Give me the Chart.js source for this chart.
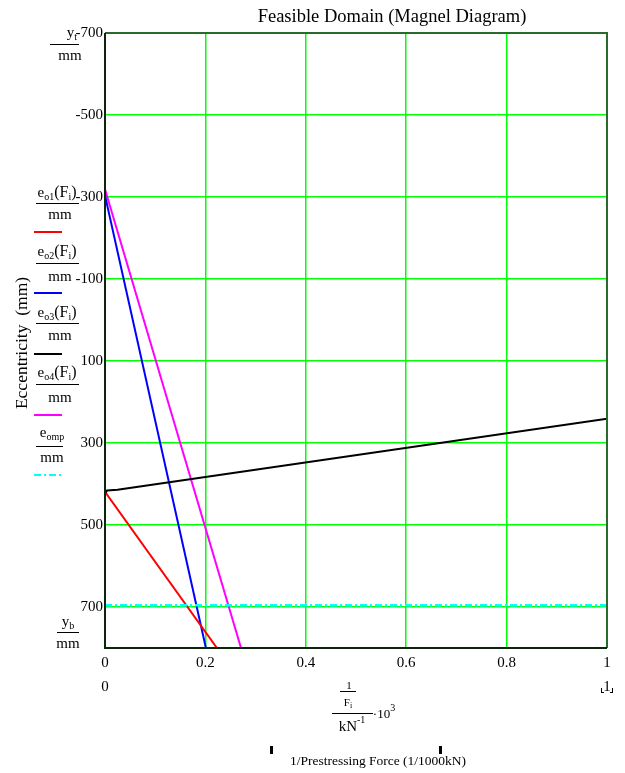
<!DOCTYPE html>
<html>
<head>
<meta charset="utf-8">
<script src="https://cdn.jsdelivr.net/npm/chart.js@4"></script>
<style>
  html, body { margin: 0; padding: 0; background: #fff; }
  canvas { display: block; }
</style>
</head>
<body>
<canvas id="magnel" width="625" height="773"></canvas>
<script>
// Magnel diagram - eccentricity vs 1/Fi
const xTicks = [0, 0.2, 0.4, 0.6, 0.8, 1];
const yTicks = [-700, -500, -300, -100, 100, 300, 500, 700];

const eo1X = [0, 0.223];
const eo1Y = [419, 800];
const eo2X = [0, 0.201];
const eo2Y = [-304, 800];
const eo3X = [0, 0.004, 0.025, 1];
const eo3Y = [423, 416, 414, 241];
const eo4X = [0, 0.271];
const eo4Y = [-319, 800];
const eompX = [0, 1];
const eompY = [696, 696];

const FONT = '"Liberation Serif", "Times New Roman", serif';
const CYAN_DASH = [7, 3, 2, 3];

function pts(xs, ys) {
  return xs.map((x, i) => ({ x: x, y: ys[i] }));
}

function line(data, color, dash, width) {
  return {
    data: data,
    showLine: true,
    borderColor: color,
    backgroundColor: color,
    borderWidth: width || 2,
    borderDash: dash || [],
    pointRadius: 0,
    tension: 0
  };
}

// draw text made of pieces (normal + subscripts/superscripts)
function rich(ctx, parts, cx, base) {
  let w = 0;
  parts.forEach(p => {
    ctx.font = (p.s || 15) + 'px ' + FONT;
    p.w = ctx.measureText(p.t).width;
    w += p.w;
  });
  let x = cx - w / 2;
  ctx.textAlign = 'left';
  ctx.textBaseline = 'alphabetic';
  parts.forEach(p => {
    ctx.font = (p.s || 15) + 'px ' + FONT;
    ctx.fillText(p.t, x, base + (p.dy || 0));
    x += p.w;
  });
}

function bar(ctx, x1, x2, y) {
  ctx.beginPath();
  ctx.moveTo(x1, y + 0.5);
  ctx.lineTo(x2, y + 0.5);
  ctx.stroke();
}

function sample(ctx, y, color, dash) {
  ctx.save();
  ctx.strokeStyle = color;
  ctx.lineWidth = 2;
  ctx.setLineDash(dash || []);
  ctx.beginPath();
  ctx.moveTo(34, y);
  ctx.lineTo(62, y);
  ctx.stroke();
  ctx.restore();
}

const decorPlugin = {
  id: 'decor',
  afterDraw(chart) {
    const ctx = chart.ctx;
    const a = chart.chartArea;
    ctx.save();

    // frame
    ctx.lineWidth = 2;
    ctx.strokeStyle = '#2a6a2a';
    ctx.beginPath();
    ctx.moveTo(a.left, a.top);
    ctx.lineTo(a.right, a.top);
    ctx.lineTo(a.right, a.bottom);
    ctx.stroke();
    ctx.strokeStyle = '#0b260b';
    ctx.beginPath();
    ctx.moveTo(a.left, a.top);
    ctx.lineTo(a.left, a.bottom);
    ctx.lineTo(a.right, a.bottom);
    ctx.stroke();

    ctx.fillStyle = '#000';
    ctx.strokeStyle = '#000';
    ctx.lineWidth = 1;

    // title
    ctx.font = '18.5px ' + FONT;
    ctx.textAlign = 'center';
    ctx.textBaseline = 'middle';
    ctx.fillText('Feasible Domain (Magnel Diagram)', 392, 17);

    // vertical axis title
    ctx.save();
    ctx.translate(22, 343);
    ctx.rotate(-Math.PI / 2);
    ctx.font = '17.5px ' + FONT;
    ctx.fillText('Eccentricity  (mm)', 0, 0);
    ctx.restore();

    // left legend (Mathcad style)
    rich(ctx, [{ t: 'y' }, { t: 't', s: 10, dy: 3 }], 72, 37);
    bar(ctx, 50, 79, 44);
    rich(ctx, [{ t: 'mm' }], 70, 60);

    rich(ctx, [{ t: 'e' }, { t: 'o1', s: 10, dy: 3 }, { t: '(F', s: 16 }, { t: 'i', s: 10, dy: 3 }, { t: ')', s: 16 }], 57, 197);
    bar(ctx, 36, 79, 203);
    rich(ctx, [{ t: 'mm' }], 60, 219);
    sample(ctx, 232, '#ff0000');

    rich(ctx, [{ t: 'e' }, { t: 'o2', s: 10, dy: 3 }, { t: '(F', s: 16 }, { t: 'i', s: 10, dy: 3 }, { t: ')', s: 16 }], 57, 256);
    bar(ctx, 36, 79, 263);
    rich(ctx, [{ t: 'mm' }], 60, 281);
    sample(ctx, 293, '#0000ff');

    rich(ctx, [{ t: 'e' }, { t: 'o3', s: 10, dy: 3 }, { t: '(F', s: 16 }, { t: 'i', s: 10, dy: 3 }, { t: ')', s: 16 }], 57, 317);
    bar(ctx, 36, 79, 323);
    rich(ctx, [{ t: 'mm' }], 60, 340);
    sample(ctx, 354, '#000000');

    rich(ctx, [{ t: 'e' }, { t: 'o4', s: 10, dy: 3 }, { t: '(F', s: 16 }, { t: 'i', s: 10, dy: 3 }, { t: ')', s: 16 }], 57, 377);
    bar(ctx, 36, 79, 384);
    rich(ctx, [{ t: 'mm' }], 60, 402);
    sample(ctx, 415, '#ff00ff');

    rich(ctx, [{ t: 'e' }, { t: 'omp', s: 10, dy: 3 }], 52, 437);
    bar(ctx, 36, 63, 446);
    rich(ctx, [{ t: 'mm' }], 52, 462);
    sample(ctx, 475, '#00ffff', CYAN_DASH);

    rich(ctx, [{ t: 'y' }, { t: 'b', s: 10, dy: 3 }], 68, 626);
    bar(ctx, 57, 79, 632);
    rich(ctx, [{ t: 'mm' }], 68, 648);

    // x-axis range limits and expression
    rich(ctx, [{ t: '0' }], 105, 691);
    rich(ctx, [{ t: '1' }], 607, 691);
    ctx.fillRect(601, 688, 1, 5);
    ctx.fillRect(601, 692, 3, 1);
    ctx.fillRect(612, 688, 1, 5);
    ctx.fillRect(610, 692, 3, 1);

    rich(ctx, [{ t: '1', s: 11 }], 349, 689);
    bar(ctx, 340, 356, 691);
    rich(ctx, [{ t: 'F', s: 11 }, { t: 'i', s: 8, dy: 2 }], 348, 706);
    bar(ctx, 332, 373, 713);
    rich(ctx, [{ t: 'kN', s: 15 }, { t: '-1', s: 10, dy: -8 }], 352, 731);
    rich(ctx, [{ t: '\u00b710', s: 13 }, { t: '3', s: 10, dy: -7 }], 384, 718);

    ctx.fillRect(270, 746, 3, 8);
    ctx.fillRect(439, 746, 3, 8);
    ctx.font = '13.5px ' + FONT;
    ctx.textAlign = 'center';
    ctx.textBaseline = 'middle';
    ctx.fillText('1/Prestressing Force (1/1000kN)', 378, 761);

    ctx.restore();
  }
};

new Chart(document.getElementById('magnel'), {
  type: 'scatter',
  data: {
    datasets: [
      line(pts(eompX, eompY), '#00ffff', CYAN_DASH, 2.5),
      line(pts(eo3X, eo3Y), '#000000'),
      line(pts(eo1X, eo1Y), '#ff0000'),
      line(pts(eo2X, eo2Y), '#0000ff'),
      line(pts(eo4X, eo4Y), '#ff00ff')
    ]
  },
  options: {
    responsive: false,
    animation: false,
    events: [],
    layout: { padding: { top: 33, right: 18, left: 0, bottom: 0 } },
    plugins: {
      legend: { display: false },
      tooltip: { enabled: false },
      title: { display: false }
    },
    scales: {
      x: {
        type: 'linear',
        min: 0,
        max: 1,
        afterBuildTicks: s => { s.ticks = xTicks.map(v => ({ value: v })); },
        afterFit: s => { s.height = 125; },
        grid: { color: '#00ff00', lineWidth: 1.5, drawTicks: false },
        border: { display: false },
        ticks: {
          color: '#000',
          padding: 6,
          maxRotation: 0,
          font: { family: FONT, size: 15 },
          callback: v => String(v)
        }
      },
      y: {
        type: 'linear',
        reverse: true,
        min: -700,
        max: 800,
        afterBuildTicks: s => { s.ticks = yTicks.map(v => ({ value: v })); },
        afterFit: s => { s.width = 105; },
        grid: { color: '#00ff00', lineWidth: 1.5, drawTicks: false },
        border: { display: false },
        ticks: {
          color: '#000',
          padding: 2,
          font: { family: FONT, size: 15 },
          callback: v => String(v)
        }
      }
    }
  },
  plugins: [decorPlugin]
});
</script>
</body>
</html>
